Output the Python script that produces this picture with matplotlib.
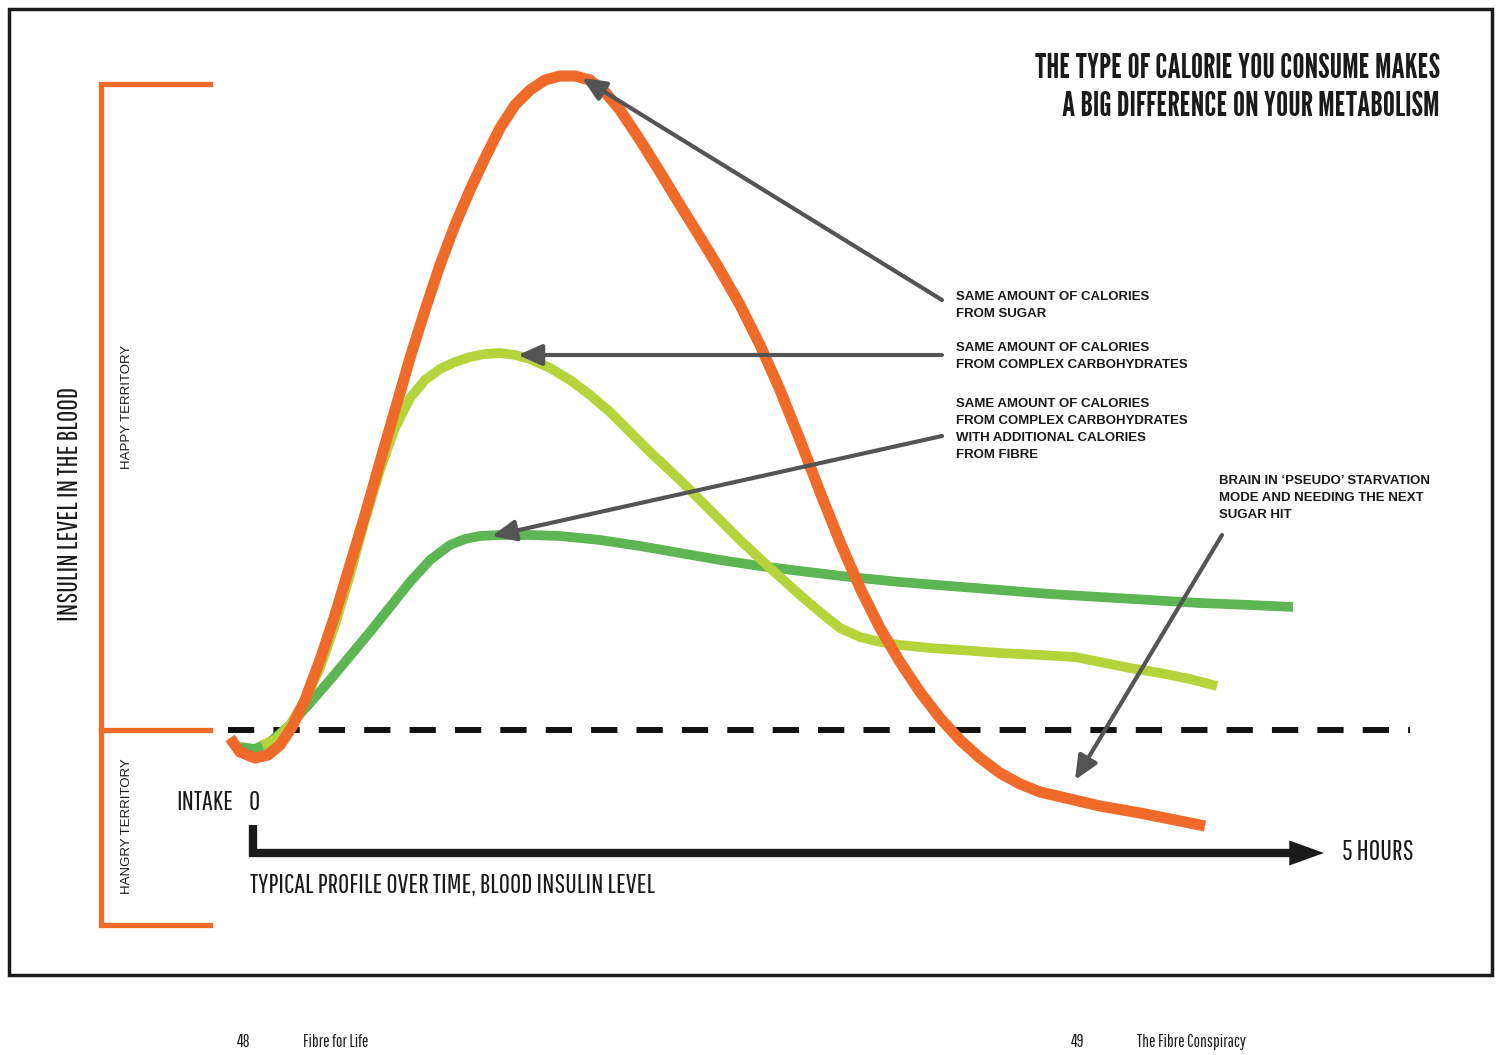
import matplotlib.pyplot as plt
from matplotlib.patches import Rectangle, FancyArrowPatch

# curve points (x, y in page pixels, y downwards)
sugar_x = [230, 240, 255, 268, 280, 292, 305, 320, 335, 350, 365, 380, 395, 410, 425, 440, 455,
           470, 485, 500, 515, 530, 545, 560, 575, 590, 605, 620, 640, 660, 680, 700, 720, 740,
           760, 780, 800, 820, 840, 860, 880, 900, 920, 940, 960, 980, 1000, 1020, 1040, 1070,
           1100, 1140, 1170, 1205]
sugar_y = [738, 752, 758, 755, 745, 727, 700, 660, 615, 565, 515, 462, 410, 358, 310, 265, 225,
           190, 158, 128, 105, 90, 80, 76, 76, 80, 92, 110, 140, 172, 205, 237, 270, 305,
           345, 390, 440, 492, 542, 588, 628, 662, 692, 718, 740, 758, 773, 784, 792, 799,
           806, 813, 819, 826]

carb_x = [262, 275, 290, 305, 320, 335, 350, 365, 380, 395, 410, 425, 440, 455, 470, 485, 500,
          515, 530, 550, 570, 590, 610, 630, 650, 680, 710, 740, 770, 800, 820, 840, 860, 880,
          900, 930, 960, 1000, 1040, 1075, 1100, 1130, 1160, 1190, 1217]
carb_y = [745, 740, 725, 700, 668, 625, 575, 520, 470, 428, 398, 380, 369, 362, 357, 354, 353,
          355, 359, 368, 380, 395, 412, 432, 452, 480, 510, 540, 568, 595, 612, 628, 637, 642,
          645, 648, 650, 653, 655, 657, 662, 668, 673, 679, 686]

fibre_x = [240, 255, 270, 290, 310, 330, 350, 370, 390, 410, 430, 450, 465, 480, 500, 530, 560,
           600, 640, 680, 720, 760, 800, 850, 900, 950, 1000, 1050, 1100, 1150, 1200, 1250, 1293]
fibre_y = [747, 749, 742, 725, 703, 680, 656, 632, 607, 582, 560, 545, 539, 536, 535, 535, 536,
           540, 546, 553, 560, 566, 571, 577, 582, 586, 590, 594, 597, 600, 603, 605, 607]

# annotation arrows: (tail x, tail y, head x, head y)
pointer_lines = [(942, 300, 582, 78), (942, 355, 518, 355), (942, 436, 492, 536),
                 (1222, 535, 1075, 780)]

notes = [(956, 291, "SAME AMOUNT OF CALORIES\nFROM SUGAR"),
         (956, 342, "SAME AMOUNT OF CALORIES\nFROM COMPLEX CARBOHYDRATES"),
         (956, 398, "SAME AMOUNT OF CALORIES\nFROM COMPLEX CARBOHYDRATES\nWITH ADDITIONAL CALORIES\nFROM FIBRE"),
         (1219, 475, "BRAIN IN \u2018PSEUDO\u2019 STARVATION\nMODE AND NEEDING THE NEXT\nSUGAR HIT")]

title_lines = ["THE TYPE OF CALORIE YOU CONSUME MAKES", "A BIG DIFFERENCE ON YOUR METABOLISM"]

orange = '#F06B2A'
lime = '#B5D33A'
green = '#5DB553'
grey = '#545454'
ink = '#1a1a1a'

heavy = ['League Gothic', 'Saira ExtraCondensed', 'Barlow Condensed', 'DejaVu Sans']
narrow = ['Pathway Gothic One', 'Saira ExtraCondensed', 'Barlow Condensed', 'DejaVu Sans']
plain = ['Liberation Sans', 'DejaVu Sans']

fig = plt.figure(figsize=(15, 10.55), dpi=100)
ax = fig.add_axes([0, 0, 1, 1])
ax.set_xlim(0, 1500)
ax.set_ylim(1055, 0)
ax.axis('off')

# page frame
ax.add_patch(Rectangle((9, 9), 1483, 966, fill=False, edgecolor=ink, linewidth=2.5))

# orange bracket
ax.plot([210, 101, 101, 210], [84, 84, 925, 925], color=orange, linewidth=3.8,
        solid_joinstyle='miter')
ax.plot([101, 210], [730, 730], color=orange, linewidth=3.8)

# threshold
ax.plot([228, 1410], [730, 730], color='#111111', linewidth=4.3, dashes=(4.4, 3.2))

# curves
ax.plot(fibre_x, fibre_y, color=green, linewidth=7, solid_capstyle='butt', zorder=3)
ax.plot(carb_x, carb_y, color=lime, linewidth=7, solid_capstyle='butt', zorder=4)
ax.plot(sugar_x, sugar_y, color=orange, linewidth=8, solid_capstyle='butt', zorder=5)

# pointers
for x0, y0, x1, y1 in pointer_lines:
    ax.add_patch(FancyArrowPatch((x0, y0), (x1, y1), arrowstyle='-|>,head_length=9,head_width=4',
                                 mutation_scale=1.6, color=grey, linewidth=3, zorder=6,
                                 shrinkA=0, shrinkB=0))

for x, y, s in notes:
    ax.text(x, y, s, fontsize=9.5, family=plain, fontweight='bold', color=ink,
            ha='left', va='top', linespacing=1.55)

# time axis
ax.plot([253, 253, 1292], [825, 853, 853], color=ink, linewidth=6,
        solid_joinstyle='miter', solid_capstyle='butt')
ax.add_patch(FancyArrowPatch((1288, 853), (1324, 853), arrowstyle='-|>,head_length=25,head_width=9',
                             mutation_scale=1, color=ink, linewidth=0, shrinkA=0, shrinkB=0))

ax.text(1440, 69, title_lines[0], fontsize=24.5, family=heavy, color=ink, ha='right', va='center')
ax.text(1440, 106, title_lines[1], fontsize=24.5, family=heavy, color=ink, ha='right', va='center')
ax.text(70, 504, "INSULIN LEVEL IN THE BLOOD", fontsize=20, family=narrow, rotation=90,
        ha='center', va='center', color=ink)
ax.text(127, 407, "HAPPY TERRITORY", fontsize=9.5, family=plain, rotation=90,
        ha='center', va='center', color=ink)
ax.text(127, 826, "HANGRY TERRITORY", fontsize=9.5, family=plain, rotation=90,
        ha='center', va='center', color=ink)
ax.text(205, 803, "INTAKE", fontsize=19.5, family=narrow, ha='center', va='center', color=ink)
ax.text(254, 803, "0", fontsize=19.5, family=narrow, ha='center', va='center', color=ink)
ax.text(250, 885, "TYPICAL PROFILE OVER TIME, BLOOD INSULIN LEVEL", fontsize=19.7, family=narrow,
        ha='left', va='center', color=ink)
ax.text(1342, 852, "5 HOURS", fontsize=20, family=narrow, ha='left', va='center', color=ink)

# footer
ax.text(244, 1042, "48", fontsize=12.3, family=narrow, ha='center', va='center', color=ink)
ax.text(303, 1042, "Fibre for Life", fontsize=12.3, family=narrow, ha='left', va='center', color=ink)
ax.text(1078, 1042, "49", fontsize=12.3, family=narrow, ha='center', va='center', color=ink)
ax.text(1137, 1042, "The Fibre Conspiracy", fontsize=12.3, family=narrow, ha='left', va='center',
        color=ink)

fig.savefig('out.png', dpi=100)
